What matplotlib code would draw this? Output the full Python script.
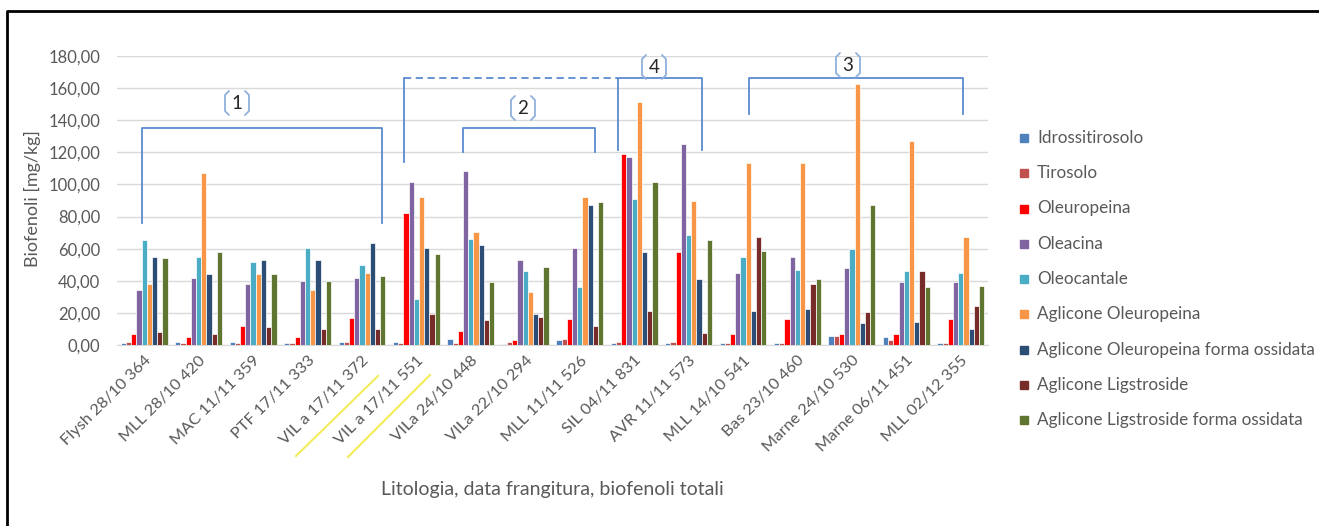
import matplotlib
matplotlib.use("Agg")
import matplotlib.pyplot as plt
import numpy as np
from matplotlib.lines import Line2D
from matplotlib.patches import Rectangle

plt.rcParams['font.family'] = ['Lato', 'DejaVu Sans']

categories = ["Flysh 28/10 364", "MLL 28/10 420", "MAC 11/11 359", "PTF 17/11 333",
              "VIL a 17/11 372", "VIL a 17/11 551", "VILa 24/10 448", "VILa 22/10 294",
              "MLL 11/11 526", "SIL 04/11 831", "AVR 11/11 573", "MLL 14/10 541",
              "Bas 23/10 460", "Marne 24/10 530", "Marne 06/11 451", "MLL 02/12 355"]

series_names = ["Idrossitirosolo", "Tirosolo", "Oleuropeina", "Oleacina", "Oleocantale",
                "Aglicone Oleuropeina", "Aglicone Oleuropeina forma ossidata",
                "Aglicone Ligstroside", "Aglicone Ligstroside forma ossidata"]

idrossitirosolo = [1, 2, 2, 1, 2, 2, 3.7, 0.5, 3, 1, 1, 1, 1, 5.8, 4.8, 1]
tirosolo        = [2, 1, 1, 1, 2, 1, 1.5, 2, 4, 2, 2, 1, 1, 5.8, 3, 1]
oleuropeina     = [7, 5, 12, 5, 16.6, 82, 8.7, 3, 16, 119, 57.7, 7, 16, 7, 7, 16]
oleacina        = [34.3, 42, 38, 40, 42, 101.8, 108.6, 52.7, 60.6, 117, 125, 45, 55, 48, 39, 39]
oleocantale     = [65.4, 55, 52, 60.6, 50, 28.5, 66, 46, 36, 91, 68.5, 54.8, 47, 59.6, 46, 45]
aglicone_oleur  = [38, 107, 44, 34, 45, 92, 70.4, 33, 92, 151.6, 90, 113.4, 113.4, 162.4, 127.3, 67.5]
aglicone_oleur_ox = [55, 44, 53, 53, 63.8, 60.6, 62.5, 19.5, 87, 57.7, 41, 21.4, 22.4, 13.5, 14.5, 10]
aglicone_lig    = [8, 7, 11, 10, 10, 19.3, 15.6, 17.6, 12, 21.4, 7.7, 67.5, 38, 20.4, 46, 24.5]
aglicone_lig_ox = [54, 58, 44, 40, 43, 56.7, 39, 48.8, 89, 101.8, 65.6, 58.8, 41, 87, 36, 37]

series = [idrossitirosolo, tirosolo, oleuropeina, oleacina, oleocantale,
          aglicone_oleur, aglicone_oleur_ox, aglicone_lig, aglicone_lig_ox]
colors = ["#4F81BD", "#C0504D", "#FF0000", "#8064A2", "#4BACC6",
          "#F79646", "#2C4D75", "#772C2A", "#5F7530"]

yticks = [0, 20, 40, 60, 80, 100, 120, 140, 160, 180]
ytick_labels = ["0,00", "20,00", "40,00", "60,00", "80,00", "100,00",
                "120,00", "140,00", "160,00", "180,00"]

W, H = 1319, 526
fig = plt.figure(figsize=(W / 100, H / 100), dpi=100)
ax = fig.add_axes([117 / W, 1 - 345 / H, (988 - 117) / W, (345 - 56) / H])

n = len(series)
x = np.arange(len(categories))
group = 0.86
bw = group / n
for i, (vals, c) in enumerate(zip(series, colors)):
    ax.bar(x - group / 2 + bw * (i + 0.5), vals, width=bw, color=c,
           edgecolor="white", linewidth=0.5, zorder=3)

ax.set_xlim(-0.5, len(categories) - 0.5)
ax.set_ylim(0, 180)
ax.set_yticks(yticks)
ax.set_yticklabels(ytick_labels, fontsize=12, color="#595959")
ax.yaxis.grid(True, color="#D9D9D9", linewidth=1, zorder=0)
ax.tick_params(axis="y", length=0, pad=12)
ax.tick_params(axis="x", length=0, pad=6)
ax.set_xticks(x)
ax.set_xticklabels(categories, rotation=45, ha="right", va="top",
                   rotation_mode="anchor", fontsize=11.8, color="#595959")
for s in ["top", "right", "left"]:
    ax.spines[s].set_visible(False)
ax.spines["bottom"].set_color("#D9D9D9")

fig.text(32 / W, 1 - 199 / H, "Biofenoli [mg/kg]", fontsize=13, color="#595959",
         rotation=90, ha="center", va="center")
fig.text(552 / W, 1 - 490 / H, "Litologia, data frangitura, biofenoli totali",
         fontsize=14, color="#595959", ha="center", va="center")

# brackets
bc = "#5B8BD0"
def px2x(px):
    return (px - 117) / 54.44 - 0.5
def py2y(py):
    return (345 - py) / 1.6056

def bracket(x0, x1, ytop, ybot_l, ybot_r, ls="-"):
    ax.plot([px2x(x0), px2x(x0), px2x(x1), px2x(x1)],
            [py2y(ybot_l), py2y(ytop), py2y(ytop), py2y(ybot_r)],
            color=bc, linewidth=1.3, linestyle=ls, clip_on=False, zorder=4)

bracket(142, 382, 128, 223, 223)
bracket(463, 595, 128, 152, 152)
bracket(749, 963, 78, 114, 114)
bracket(618, 702, 78, 150, 150)
ax.plot([px2x(404), px2x(404)], [py2y(162), py2y(78)], color=bc, linewidth=1.3,
        clip_on=False, zorder=4)
ax.plot([px2x(404), px2x(618)], [py2y(78), py2y(78)], color=bc, linewidth=1.3,
        linestyle=(0, (4, 2.5)), clip_on=False, zorder=4)

def label_box(cx, cy, txt):
    hw, hh, r = 12, 12, 4
    for side in (-1, 1):
        xs = [cx + side * (hw - r), cx + side * hw, cx + side * hw, cx + side * (hw - r)]
        ys = [cy - hh, cy - hh + r, cy + hh - r, cy + hh]
        ax.plot([px2x(v) for v in xs], [py2y(v) for v in ys], color="#8FB0DC",
                linewidth=1.3, clip_on=False, zorder=4, solid_capstyle="round")
    ax.text(px2x(cx), py2y(cy), txt, fontsize=13.5, color="#262626", ha="center",
            va="center", zorder=5, clip_on=False)

label_box(237, 103, "1")
label_box(523, 108, "2")
label_box(848, 65, "3")
label_box(654, 67, "4")

# yellow highlight lines
for (xa, ya, xb, yb) in [(296, 456, 378, 376), (348, 457, 430, 375)]:
    fig.add_artist(Line2D([xa / W, xb / W], [1 - ya / H, 1 - yb / H],
                          color="#F2EB5A", linewidth=1.5))

# legend (manual)
for i, (name, c) in enumerate(zip(series_names, colors)):
    yc = 138 + i * 35.25
    fig.add_artist(Rectangle((1020 / W, 1 - (yc + 4) / H), 8 / W, 8 / H,
                             transform=fig.transFigure, color=c))
    fig.text(1037 / W, 1 - yc / H, name, fontsize=12.3, color="#595959",
             ha="left", va="center")

# outer border
fig.add_artist(Line2D([7 / W, 7 / W, 1.0], [0.0, 1 - 11 / H, 1 - 11 / H],
                      color="black", linewidth=2))

fig.savefig("out.png", dpi=100)
